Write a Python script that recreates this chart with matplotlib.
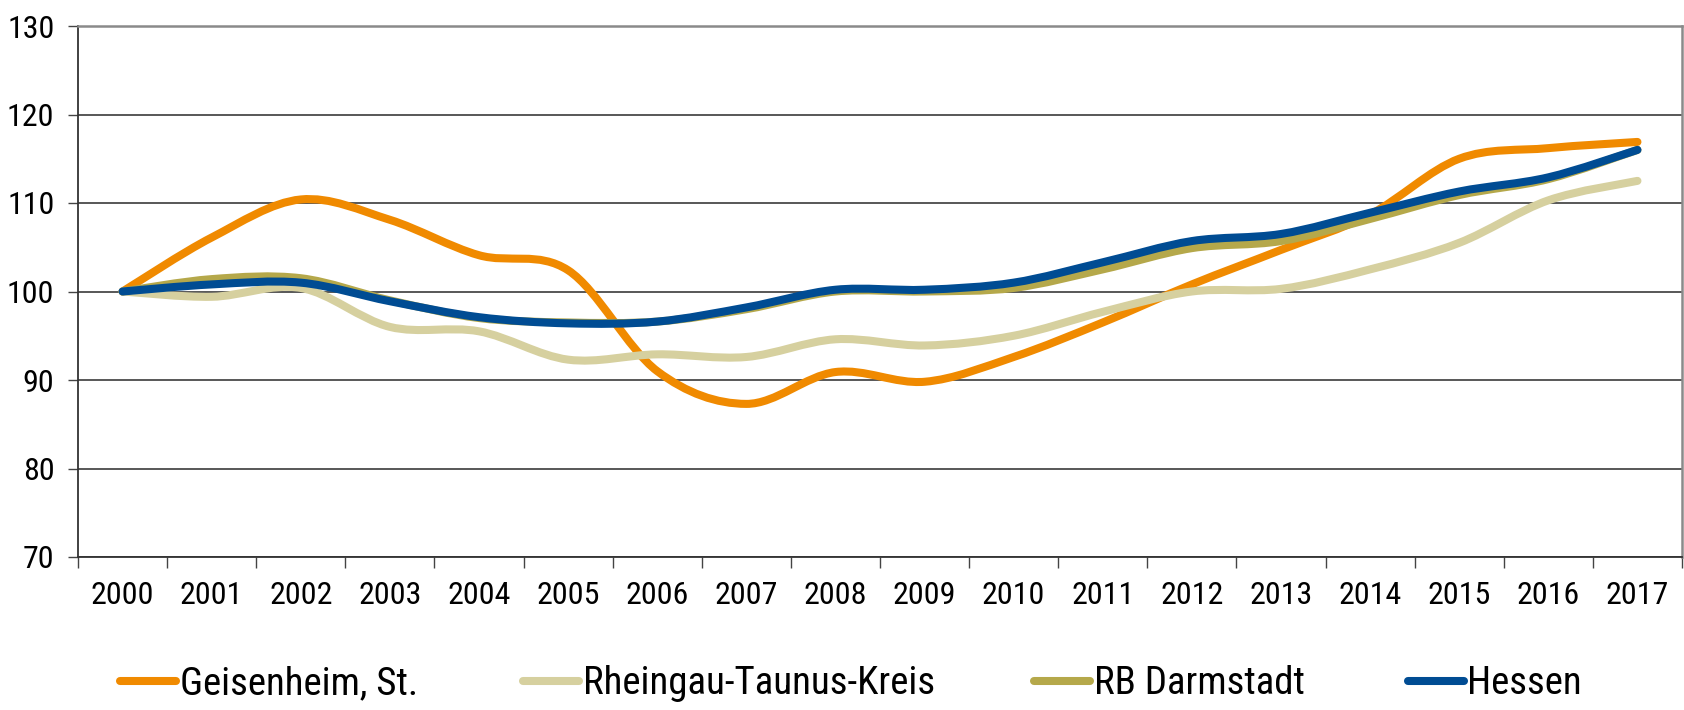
import numpy as np
import matplotlib.pyplot as plt
from matplotlib.path import Path
from matplotlib.patches import PathPatch
from matplotlib.lines import Line2D

plt.rcParams['font.family'] = ['Roboto Condensed', 'Liberation Sans', 'DejaVu Sans']
plt.rcParams['font.stretch'] = 'condensed'

years = [str(y) for y in range(2000, 2018)]

geisenheim = [100.0, 106.1, 110.4, 108.1, 104.1, 102.4, 91.0, 87.3, 90.9, 89.8,
              92.6, 96.5, 100.8, 104.7, 108.7, 115.0, 116.2, 116.9]
rheingau = [100.0, 99.4, 100.4, 96.0, 95.5, 92.3, 92.9, 92.6, 94.6, 93.9,
            95.0, 97.7, 100.0, 100.3, 102.5, 105.5, 110.3, 112.5]
rb_darmstadt = [100.0, 101.4, 101.5, 99.0, 97.0, 96.5, 96.6, 98.0, 100.0, 100.0,
                100.4, 102.5, 104.9, 105.7, 108.2, 110.9, 112.7, 116.0]
hessen = [100.0, 100.8, 101.0, 98.9, 97.1, 96.4, 96.6, 98.2, 100.2, 100.2,
          101.0, 103.3, 105.7, 106.5, 108.9, 111.3, 112.9, 116.0]

series = [
    ("Geisenheim, St.", geisenheim, "#F08A00"),
    ("Rheingau-Taunus-Kreis", rheingau, "#D6D09F"),
    ("RB Darmstadt", rb_darmstadt, "#B5A84A"),
    ("Hessen", hessen, "#004C93"),
]


def smooth_path(xs, ys):
    # bezier segments like a spreadsheet "smoothed line"
    pts = np.column_stack([xs, ys]).astype(float)
    ext = np.vstack([pts[0], pts, pts[-1]])
    verts = [pts[0]]
    codes = [Path.MOVETO]
    for i in range(len(pts) - 1):
        p0, p1, p2, p3 = ext[i], ext[i + 1], ext[i + 2], ext[i + 3]
        c1 = p1 + (p2 - p0) / 6.0
        c2 = p2 - (p3 - p1) / 6.0
        verts += [c1, c2, p2]
        codes += [Path.CURVE4] * 3
    return Path(verts, codes)


fig = plt.figure(figsize=(16.84, 7.10), dpi=100)
ax = fig.add_axes([78 / 1684, (710 - 557) / 710, (1682 - 78) / 1684, (557 - 26) / 710])

x = np.arange(len(years))
for z, (name, vals, col) in enumerate(series):
    patch = PathPatch(smooth_path(x, vals), facecolor="none", edgecolor=col,
                      lw=5.8, capstyle="round", joinstyle="round", zorder=3 + z)
    ax.add_patch(patch)

ax.set_xlim(-0.5, len(years) - 0.5)
ax.set_ylim(70, 130)
ax.set_yticks(range(70, 131, 10))
ax.yaxis.grid(True, color="#4a4a4a", lw=1.3)
ax.set_axisbelow(True)

ax.set_xticks(x)
ax.set_xticklabels(years)
ax.set_xticks(np.arange(-0.5, len(years), 1), minor=True)
ax.tick_params(axis="x", which="major", length=0, pad=17, labelsize=23)
ax.tick_params(axis="x", which="minor", length=8, width=1, color="#444444")
ax.tick_params(axis="y", length=7, width=1, color="#444444", pad=10, labelsize=23)

for side in ["left", "bottom"]:
    ax.spines[side].set_color("#333333")
    ax.spines[side].set_linewidth(1.3)
for side in ["top", "right"]:
    ax.spines[side].set_color("#8a8a8a")
    ax.spines[side].set_linewidth(1.8)

# legend entries spread along the bottom
legend_x = [120, 523, 1034, 1408]
for (name, vals, col), lx in zip(series, legend_x):
    h = Line2D([], [], color=col, lw=5.8, solid_capstyle="round")
    fig.legend(handles=[h], labels=[name], loc="center left",
               bbox_to_anchor=(lx / 1684, 1 - 684 / 710), frameon=False,
               fontsize=28, handlelength=1.45, handletextpad=0.08, borderpad=0,
               borderaxespad=0)

fig.savefig("out.png", dpi=100)
